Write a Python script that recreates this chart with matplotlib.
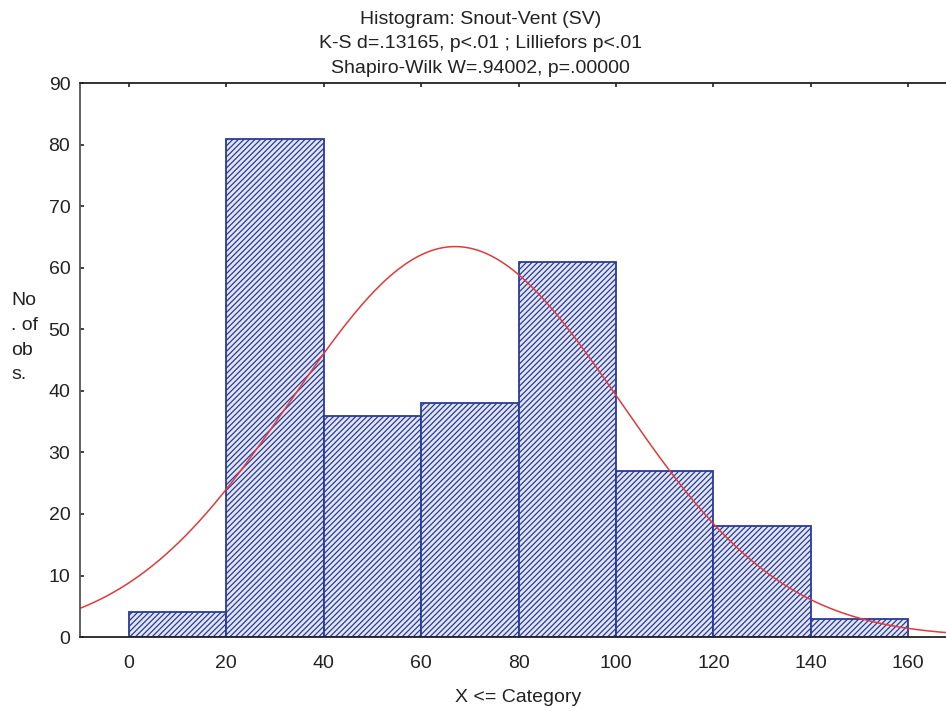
import numpy as np
import matplotlib
matplotlib.use("Agg")
import matplotlib.pyplot as plt

plt.rcParams['font.family'] = ['Liberation Sans', 'DejaVu Sans']
plt.rcParams['hatch.color'] = '#1c2350'
plt.rcParams['hatch.linewidth'] = 0.9

# histogram bins (upper bound of each category) and counts
bin_left = [0, 20, 40, 60, 80, 100, 120, 140]
bin_width = 20
counts = [4, 81, 36, 38, 61, 27, 18, 3]

# fitted normal curve parameters
fit_mean = 67.0
fit_sd = 33.7

title_lines = ["Histogram: Snout-Vent (SV)",
               "K-S d=.13165, p<.01 ; Lilliefors p<.01",
               "Shapiro-Wilk W=.94002, p=.00000"]
x_ticks = [0, 20, 40, 60, 80, 100, 120, 140, 160]
y_ticks = [0, 10, 20, 30, 40, 50, 60, 70, 80, 90]

fig = plt.figure(figsize=(9.46, 7.11), dpi=100)
ax = fig.add_axes([0.0846, 0.104, 0.927, 0.779])

ax.bar(bin_left, counts, width=bin_width, align='edge',
       color='#e2e6f3', edgecolor='#2a3a9a', linewidth=1.3, hatch='//////')

n_total = sum(counts)
xs = np.linspace(-10, 170, 400)
ys = n_total * bin_width / (fit_sd * np.sqrt(2 * np.pi)) * \
    np.exp(-(xs - fit_mean) ** 2 / (2 * fit_sd ** 2))
ax.plot(xs, ys, color='#e03a3a', linewidth=1.1)

ax.set_xlim(-10, 170)
ax.set_ylim(0, 90)
ax.set_xticks(x_ticks)
ax.set_yticks(y_ticks)
ax.tick_params(direction='in', top=True, right=True, labelsize=14,
               length=3, width=1.2, colors='#222222')
ax.tick_params(axis='x', bottom=False, pad=13)
ax.tick_params(axis='y', pad=7)
for s in ax.spines.values():
    s.set_linewidth(1.3)
    s.set_color('#222222')
ax.spines['left'].set_color('#555555')

ax.set_xlabel("X <= Category", fontsize=14, color='#222222', labelpad=12)
fig.text(0.012, 0.525, "No\n. of\nob\ns.", fontsize=14, color='#222222',
         ha='left', va='center', linespacing=1.6)

for i, line in enumerate(title_lines):
    fig.text(0.508, 0.973 - i * 0.0345, line, fontsize=14, color='#222222',
             ha='center', va='center')

fig.savefig("out.png", dpi=100)
